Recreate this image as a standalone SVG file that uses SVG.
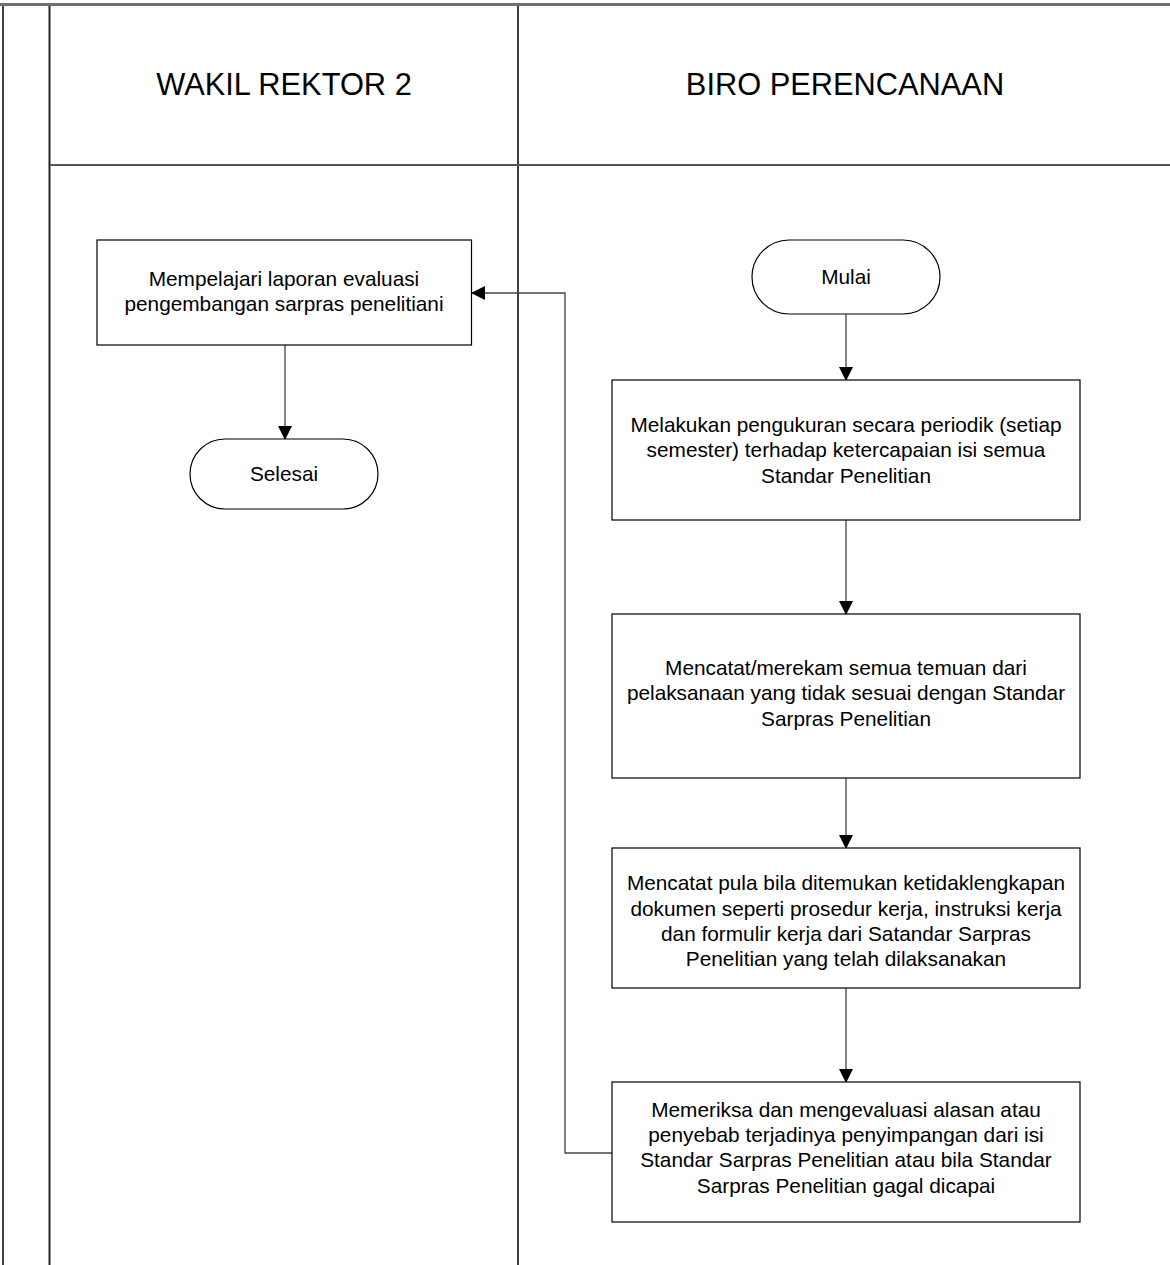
<svg xmlns="http://www.w3.org/2000/svg" width="1170" height="1265" viewBox="0 0 1170 1265">
<style>
.lane{stroke:#000;stroke-width:1.5;fill:none}
.hdr{font-family:"Liberation Sans",Arial,sans-serif;font-size:30.8px;fill:#000;text-anchor:middle}
.box{fill:#fff;stroke:#000;stroke-width:1.2}
.t{font-family:"Liberation Sans",Arial,sans-serif;font-size:20.8px;fill:#000;text-anchor:middle}
.conn{stroke:#444;stroke-width:1.3;fill:none;marker-end:url(#ah)}
</style>
<defs>
<marker id="ah" markerWidth="14" markerHeight="14" viewBox="0 0 14 14" refX="13" refY="7" orient="auto" markerUnits="userSpaceOnUse">
<path d="M0,0 L14,7 L0,14 Z" fill="#000"/>
</marker>
</defs>
<rect width="1170" height="1265" fill="#fff"/>
<g id="pool">
<line x1="0" y1="4.5" x2="1170" y2="4.5" stroke="#6e6e6e" stroke-width="3"/>
<line x1="3" y1="6" x2="3" y2="1265" class="lane"/>
<line x1="49.5" y1="6" x2="49.5" y2="1265" stroke="#222" stroke-width="2"/>
<line x1="518" y1="6" x2="518" y2="1265" class="lane"/>
<line x1="50" y1="165" x2="1170" y2="165" stroke="#555" stroke-width="2"/>
<text class="hdr" x="284" y="95">WAKIL REKTOR 2</text>
<text class="hdr" x="845" y="95">BIRO PERENCANAAN</text>
</g>
<g id="connectors">
<line class="conn" x1="846" y1="314" x2="846" y2="380"/>
<line class="conn" x1="846" y1="520" x2="846" y2="614"/>
<line class="conn" x1="846" y1="778" x2="846" y2="848"/>
<line class="conn" x1="846" y1="988" x2="846" y2="1082"/>
<polyline class="conn" points="612,1153 565,1153 565,293 472,293"/>
<line class="conn" x1="285" y1="345" x2="285" y2="439"/>
</g>
<g id="n_wr">
<rect class="box" x="97" y="240" width="374.5" height="105"/>
<text class="t" x="284" y="286">Mempelajari laporan evaluasi</text>
<text class="t" x="284" y="311">pengembangan sarpras penelitiani</text>
</g>
<g id="n_selesai">
<rect class="box" x="190" y="439" width="188" height="70" rx="35" ry="35"/>
<text class="t" x="284" y="481">Selesai</text>
</g>
<g id="n_mulai">
<rect class="box" x="752" y="240" width="188" height="74" rx="37" ry="37"/>
<text class="t" x="846" y="284">Mulai</text>
</g>
<g id="n_1">
<rect class="box" x="612" y="380" width="468" height="140"/>
<text class="t" x="846" y="432">Melakukan pengukuran secara periodik (setiap</text>
<text class="t" x="846" y="457">semester) terhadap ketercapaian isi semua</text>
<text class="t" x="846" y="483">Standar Penelitian</text>
</g>
<g id="n_2">
<rect class="box" x="612" y="614" width="468" height="164"/>
<text class="t" x="846" y="675">Mencatat/merekam semua temuan dari</text>
<text class="t" x="846" y="700">pelaksanaan yang tidak sesuai dengan Standar</text>
<text class="t" x="846" y="726">Sarpras Penelitian</text>
</g>
<g id="n_3">
<rect class="box" x="612" y="848" width="468" height="140"/>
<text class="t" x="846" y="890">Mencatat pula bila ditemukan ketidaklengkapan</text>
<text class="t" x="846" y="916">dokumen seperti prosedur kerja, instruksi kerja</text>
<text class="t" x="846" y="941">dan formulir kerja dari Satandar Sarpras</text>
<text class="t" x="846" y="966">Penelitian yang telah dilaksanakan</text>
</g>
<g id="n_4">
<rect class="box" x="612" y="1082" width="468" height="140"/>
<text class="t" x="846" y="1117">Memeriksa dan mengevaluasi alasan atau</text>
<text class="t" x="846" y="1142">penyebab terjadinya penyimpangan dari isi</text>
<text class="t" x="846" y="1167">Standar Sarpras Penelitian atau bila Standar</text>
<text class="t" x="846" y="1193">Sarpras Penelitian gagal dicapai</text>
</g>
</svg>
